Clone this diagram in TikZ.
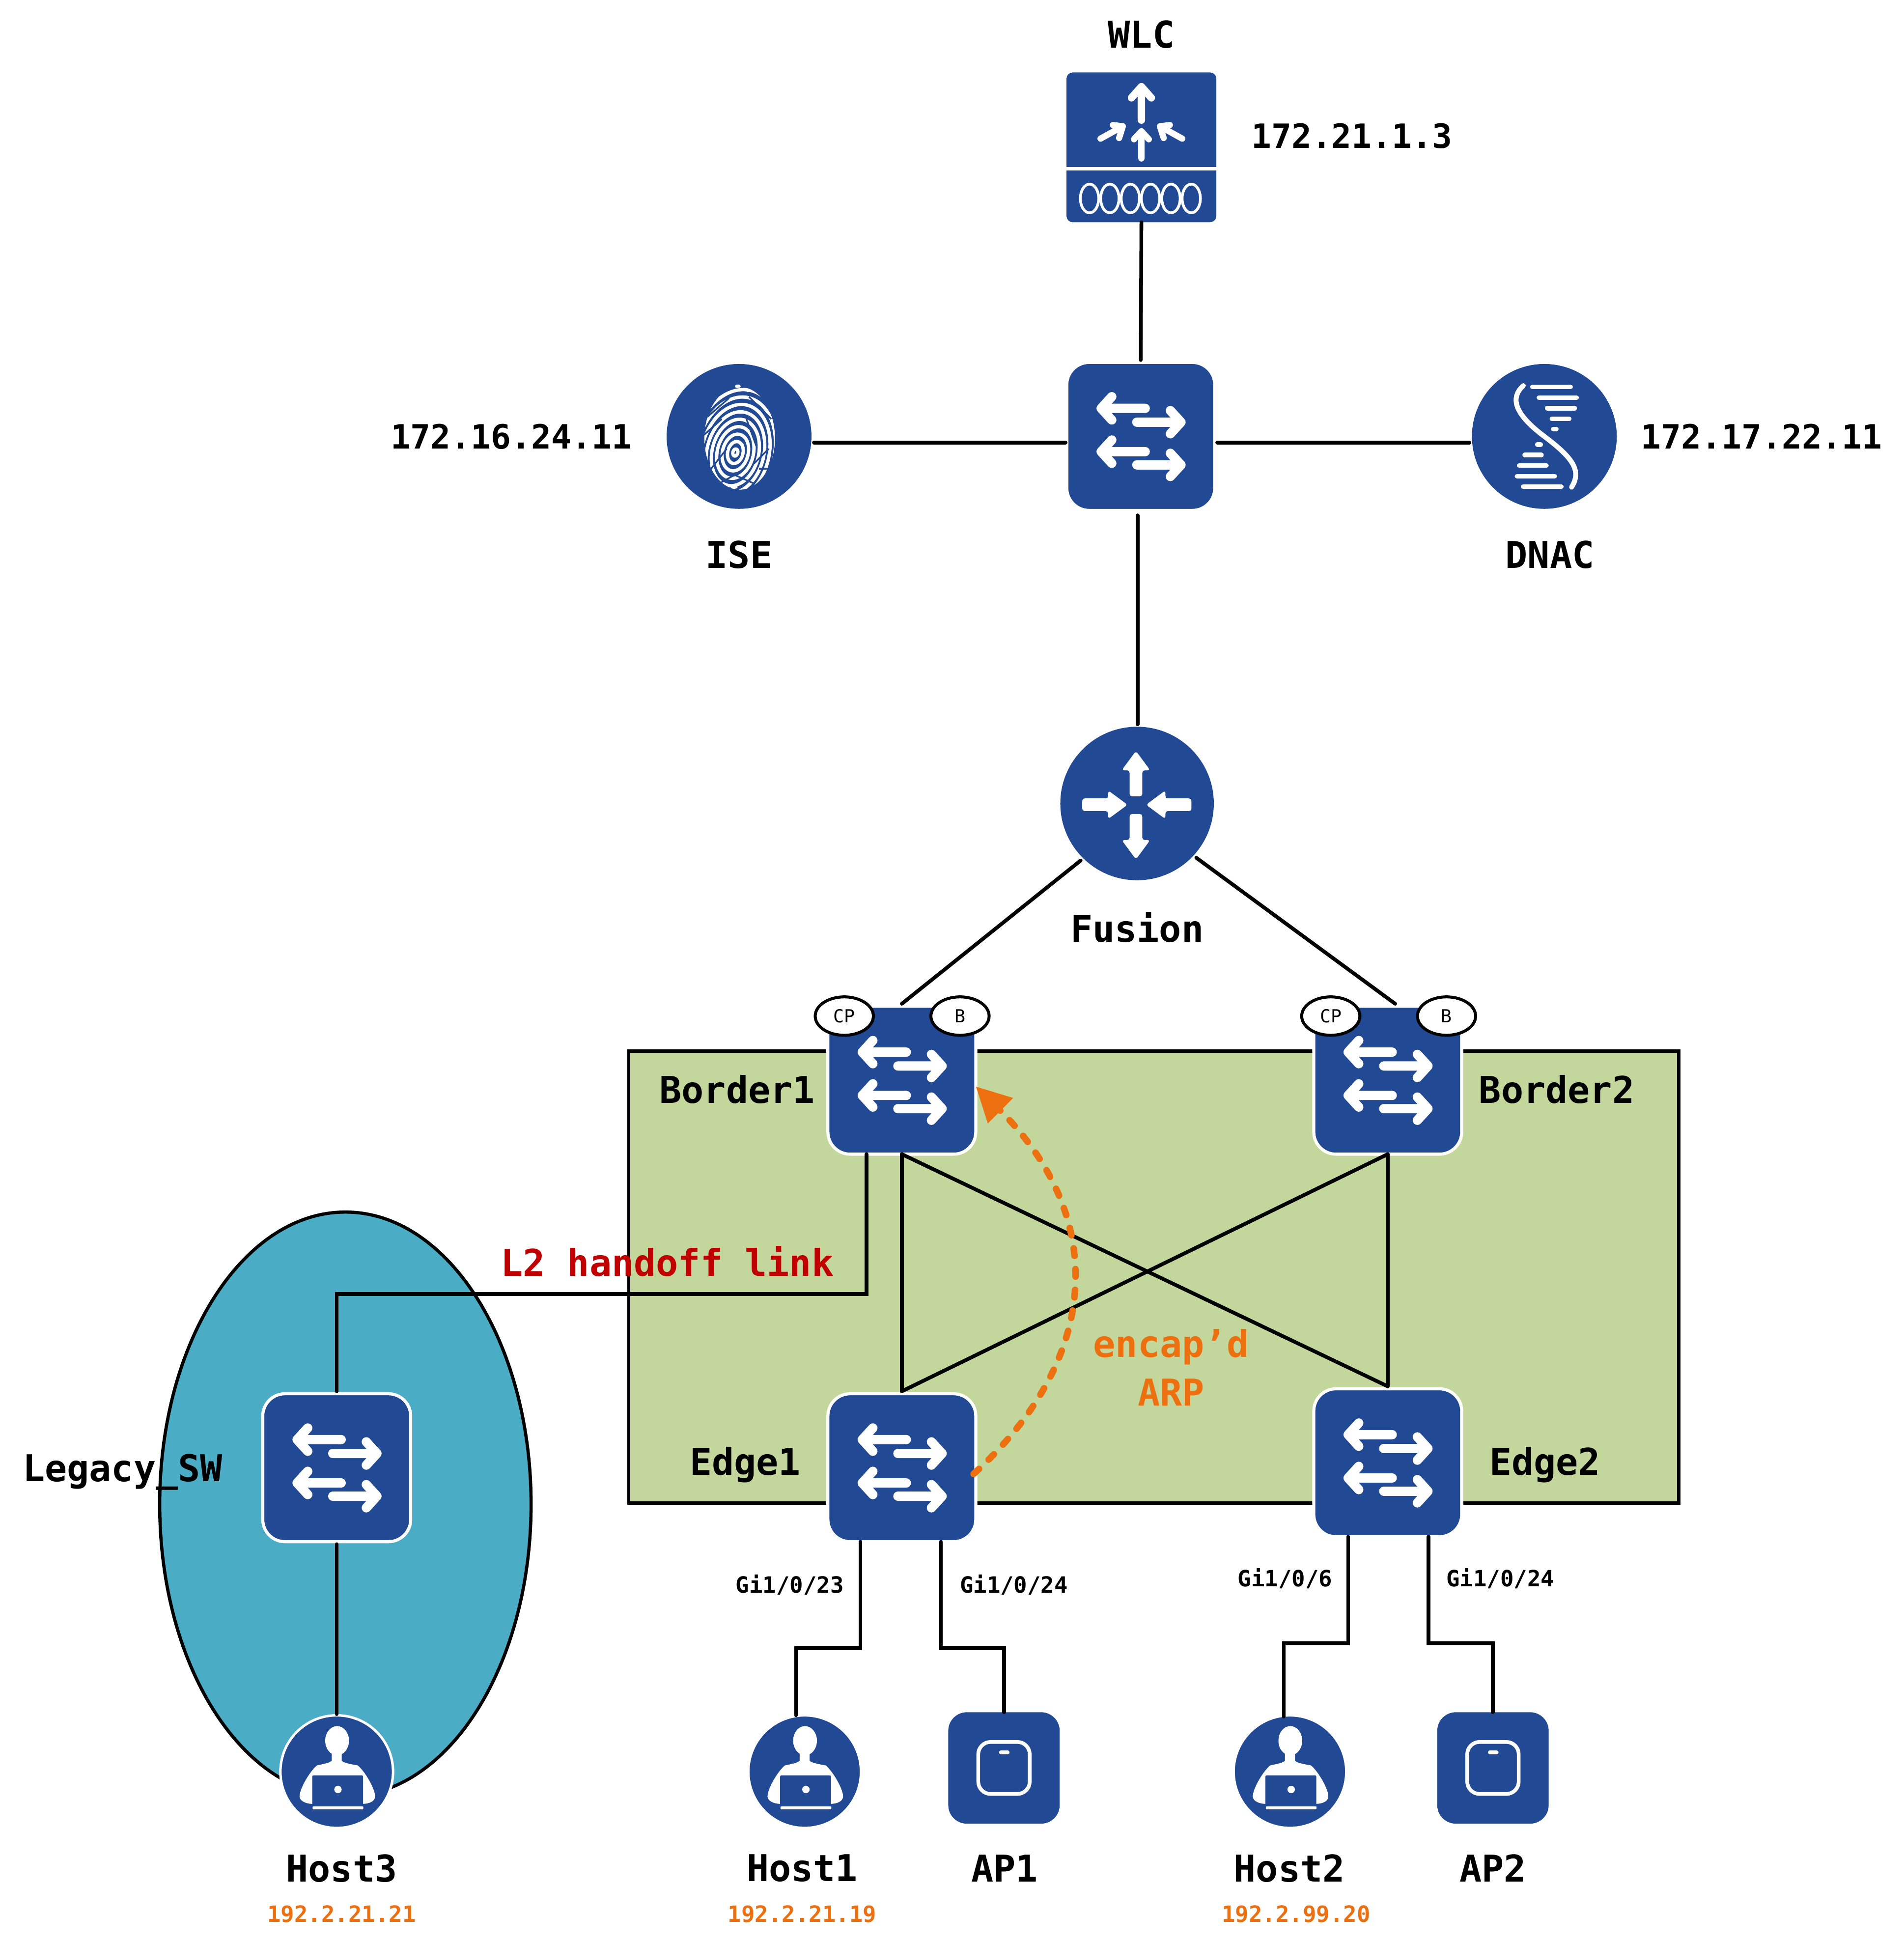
\documentclass[tikz,border=0pt]{standalone}
\usepackage{fontspec}
\setmonofont{DejaVu Sans Mono}
\usetikzlibrary{arrows.meta}
\usetikzlibrary{shapes.geometric}
\definecolor{ciscoblue}{HTML}{224994}
\definecolor{fabricgreen}{HTML}{C3D69B}
\definecolor{legacyteal}{HTML}{4BACC6}
\definecolor{arporange}{HTML}{EC7010}
\definecolor{handoffred}{HTML}{C00000}

\tikzset{
  link/.style = {line width=3pt, line cap=round, line join=miter},
  swbox/.style = {rectangle, rounded corners=18pt, fill=ciscoblue, draw=white, line width=2.5pt,
                  minimum size=119.5pt, inner sep=0pt, outer sep=0pt},
  apbox/.style = {rectangle, rounded corners=15pt, fill=ciscoblue, minimum size=90pt, inner sep=0pt, outer sep=0pt},
  bluedisc/.style = {circle, fill=ciscoblue, inner sep=0pt, outer sep=0pt},
  hostdisc/.style = {bluedisc, draw=white, line width=2pt, minimum size=91pt},
  tagoval/.style = {ellipse, draw=black, fill=white, line width=2.4pt, minimum width=47pt, minimum height=31pt,
                    inner sep=0pt, outer sep=0pt, font=\ttfamily\fontsize{14.5}{16}\selectfont},
  lblbig/.style = {inner sep=0pt, font=\ttfamily\bfseries\fontsize{29.8}{34}\selectfont},
  lblip/.style = {inner sep=0pt, font=\ttfamily\bfseries\fontsize{27}{32}\selectfont},
  lblport/.style = {inner sep=0pt, font=\ttfamily\bfseries\fontsize{18.1}{21}\selectfont},
  wline/.style = {draw=white, line cap=round, line join=round},
  swarrows/.pic = {
    \foreach \rowa/\rowb in {-22.7/-11.5, 12.3/23} {
      \draw[wline, line width=7.5pt] (3.6,\rowa) -- (-32,\rowa) (-23.4,\rowa-9.4) -- (-32,\rowa) -- (-23.4,\rowa+9.4);
      \draw[wline, line width=7.5pt] (-3.2,\rowb) -- (32.5,\rowb) (23.9,\rowb-9.4) -- (32.5,\rowb) -- (23.9,\rowb+9.4);
    }
  },
  routarrows/.pic = {
    \foreach \ox/\oy/\ang in {-0.9/-5.8/0, -0.9/8.5/180, -44.3/1/-90, 43.9/1/90}
      {\fill[white, rounded corners=2pt, shift={(\ox,\oy)}, rotate=\ang]
         (-5.1,0) -- (-5.1,-21) -- (-11.5,-21) -- (0,-36.6) -- (11.5,-21) -- (5.1,-21) -- (5.1,0) -- cycle;}
  },
  wlcicon/.pic = {
    \draw[wline, line width=6pt] (0,-22) -- (0,-49) (-8,-40) -- (0,-49) -- (8,-40);
    \draw[wline, line width=5pt] (0,9) -- (0,-13) (-6,-6.5) -- (0,-13) -- (6,-6.5);
    \draw[wline, line width=5pt] (-33,-7) -- (-15,-17) (-23,-18) -- (-15,-17) -- (-18,-7.5);
    \draw[wline, line width=5pt] (33,-7) -- (15,-17) (23,-18) -- (15,-17) -- (18,-7.5);
    \fill[white] (-61,15.9) rectangle (61,18.5);
    \foreach \cx in {-41.9,-25.5,-8.9,7.4,23.9,40.3}
      {\draw[white, line width=2.2pt] (\cx,41.3) ellipse [x radius=7.4,y radius=11.6];}
  },
  fingerprint/.pic = {
    \begin{scope}
      \clip (0.5,1.5) ellipse [x radius=28.5,y radius=41.5];
      \foreach \r in {2,6.2,10.4,14.6,18.8,23,27.2,31.4,35.6}
        {\draw[wline, line width=2.7pt, rotate around={-14:(-3,13)}] (-3,13) ellipse [x radius=\r,y radius=1.45*\r];}
      % ridge endings
      \foreach \ax/\ay/\bx/\by in {-30/-12/-8/-31, -32/2/-14/-14, 6/-14/14/8, 12/22/24/10, -24/28/-10/10, -6/30/12/38,
                                   8/-32/26/-14, 16/26/30/26, -16/38/2/28}
        {\draw[ciscoblue, line width=1.3pt] (\ax,\ay) -- (\bx,\by);}
    \end{scope}
    \fill[white] (-1,-40.5) ellipse [x radius=2.4,y radius=1.4] (7,-37) circle (1.3) (-4,41) ellipse [x radius=2.8,y radius=1.3];
  },
  dnahelix/.pic = {
    \draw[wline, line width=4pt] (-17,-41) .. controls (-28,-31) and (-24,-18) .. (0,0)
      .. controls (24,18) and (30,28) .. (22,41);
    \foreach \yy/\xa/\xb in {-39.9/-9.7/21.2, -31.3/-4.4/26.1, -22.8/2.3/24.6, -14.2/6.1/20.1, -6/7.2/9.7,
                             6.6/-5.7/-2.9, 15/-15.9/-2.3, 23.5/-20.4/1.7, 32.1/-22.1/8.4, 40.6/-17.2/13.8}
      {\draw[wline, line width=3.7pt] (\xa,\yy) -- (\xb,\yy);}
  },
  hostuser/.pic = {
    \fill[white] (0.3,-25) ellipse [x radius=9.6,y radius=11.8];
    \fill[white] (-4,-16) -- (-4,-9) .. controls (-5,-7) and (-12,-6) .. (-16,-5)
      .. controls (-22,0) and (-30,14) .. (-30,20) .. controls (-30,24) and (-24,26) .. (-20,26)
      -- (21,26) .. controls (26,26) and (31,24) .. (31,20) .. controls (31,14) and (23,0) .. (17,-5)
      .. controls (12,-6) and (5,-7) .. (4,-9) -- (4,-16) -- cycle;
    \fill[ciscoblue, rounded corners=1pt] (-19.8,3) rectangle (21.3,28);
    \fill[white] (1,14.4) circle (3);
    \fill[white, rounded corners=0.8pt] (-19.5,28) rectangle (21.5,30.4);
  },
  apicon/.pic = {
    \draw[white, line width=3pt, rounded corners=10pt] (-20.8,-21) rectangle (20.8,21);
    \draw[wline, line width=3pt] (-2.5,-12.6) -- (3,-12.6);
  }
}

\begin{document}
\begin{tikzpicture}[x=1pt,y=-1pt]
\useasboundingbox (0,0) rectangle (1537.7,1568.6);

% background areas
\node[ellipse, draw=black, fill=legacyteal, line width=2.6pt, minimum width=300pt, minimum height=472pt,
      inner sep=0pt] (legacyarea) at (279,1215) {};
\node[rectangle, draw=black, fill=fabricgreen, line width=2.6pt, minimum width=848pt, minimum height=365pt,
      inner sep=0pt] (fabric) at (932,1031.5) {};

% devices
\node[rectangle, rounded corners=5pt, fill=ciscoblue, minimum size=121pt, inner sep=0pt, outer sep=0pt] (wlc) at (922,119) {};
\node[swbox] (fsw) at (921.5,352.5) {};
\node[bluedisc, minimum size=117pt] (ise) at (597,352.5) {};
\node[bluedisc, minimum size=117pt] (dnac) at (1247.5,352.5) {};
\node[bluedisc, minimum size=124pt] (fusion) at (918.5,649) {};
\node[swbox] (border1) at (728.5,872.5) {};
\node[swbox] (border2) at (1121,872.5) {};
\node[swbox] (edge1) at (728.5,1185.5) {};
\node[swbox] (edge2) at (1121,1181.5) {};
\node[swbox] (legacy) at (272,1185.5) {};
\node[hostdisc] (host3) at (272,1431) {};
\node[hostdisc] (host1) at (650,1431) {};
\node[hostdisc] (host2) at (1042,1431) {};
\node[apbox] (ap1) at (811,1428) {};
\node[apbox] (ap2) at (1206,1428) {};

% connectors
\draw[link] (wlc.south) -- ([yshift=2pt]fsw.north);
\draw[link] ([yshift=-5pt,xshift=2pt]ise.east) -- ([yshift=-5pt,xshift=-1pt]fsw.west);
\draw[link] ([yshift=-5pt,xshift=2pt]fsw.east) -- ([yshift=-5pt,xshift=-2pt]dnac.west);
\draw[link] ([xshift=-2.5pt,yshift=-4pt]fsw.south) -- ([xshift=0.5pt,yshift=2pt]fusion.north);
\draw[link] ([xshift=-1.7pt,yshift=-2.2pt]fusion.225) -- ([yshift=2pt]border1.north);
\draw[link] ([xshift=4pt]fusion.-45) -- ([xshift=6pt,yshift=2pt]border2.north);

\draw[link] ([xshift=-28.5pt]border1.south) -- ++(0,113) -| ([yshift=2pt]legacy.north);
\draw[link] ([yshift=-2pt]legacy.south) -- ([yshift=1pt]host3.north);

\draw[link] (border1.south) -- ([yshift=2pt]edge1.north);
\draw[link] (border1.south) -- ([yshift=2pt]edge2.north);
\draw[link] (border2.south) -- ([yshift=2pt]edge1.north);
\draw[link] (border2.south) -- ([yshift=2pt]edge2.north);

\draw[link] ([xshift=-33.5pt]edge1.south) |- ++(-52,86) -- ([xshift=-7pt,yshift=0pt]host1.north);
\draw[link] ([xshift=31.5pt]edge1.south) |- ++(51,86) -- (ap1.north);
\draw[link] ([xshift=-32pt]edge2.south) |- ++(-52,86) -- ([xshift=-5pt,yshift=-1pt]host2.north);
\draw[link] ([xshift=33pt]edge2.south) |- ++(52,86) -- (ap2.north);

\draw[-{Triangle[length=28pt,width=27.5pt]}, arporange, line width=5.3pt, dash pattern=on 6pt off 10.8pt, line cap=round]
  ([yshift=-5pt,xshift=-1.8pt]edge1.east) .. controls (892,1095) and (893,981) .. ([yshift=-5pt]border1.east);

% icons
\pic at (wlc.center) {wlcicon};
\pic at (fsw.center) {swarrows};
\pic at (ise.center) {fingerprint};
\pic at (dnac.center) {dnahelix};
\pic at (fusion.center) {routarrows};
\foreach \sw in {border1, border2, edge1, edge2, legacy}
  {\pic at (\sw.center) {swarrows};}
\foreach \hst in {host1, host2, host3}
  {\pic at (\hst.center) {hostuser};}
\foreach \ap in {ap1, ap2}
  {\pic at (\ap.center) {apicon};}

% role tags
\node[tagoval] (cp1) at (682,820.7) {CP};
\node[tagoval] (b1) at (775.5,820.7) {B};
\node[tagoval] (cp2) at (1075,820.7) {CP};
\node[tagoval] (b2) at (1168.5,820.7) {B};

% labels
\node[lblbig] (lblwlc) at (922,28) {WLC};
\node[lblip] (ipwlc) at (1092,110) {172.21.1.3};
\node[lblip] (ipise) at (413,352.5) {172.16.24.11};
\node[lblip] (ipdnac) at (1423,352.5) {172.17.22.11};
\node[lblbig] (lblise) at (597,448) {ISE};
\node[lblbig] (lbldnac) at (1252,448) {DNAC};
\node[lblbig] (lblfusion) at (918.5,749) {Fusion};
\node[lblbig] (lblborder1) at (595.5,880) {Border1};
\node[lblbig] (lblborder2) at (1257.5,880) {Border2};
\node[lblbig] (lbledge1) at (602,1183) {Edge1};
\node[lblbig] (lbledge2) at (1248,1183) {Edge2};
\node[lblbig] (lbllegacy) at (99,1189) {Legacy\_SW};
\node[lblbig, text=handoffred] (lblhandoff) at (539,1019) {L2 handoff link};
\node[lblbig, text=arporange, align=center] (lblarp) at (946,1104.5) {encap’d\\[5pt]ARP};
\node[lblport] (port1) at (638,1280) {Gi1/0/23};
\node[lblport] (port2) at (819,1280) {Gi1/0/24};
\node[lblport] (port3) at (1038,1275) {Gi1/0/6};
\node[lblport] (port4) at (1212,1275) {Gi1/0/24};
\node[lblbig] (lblhost3) at (276,1509) {Host3};
\node[lblbig] (lblhost1) at (648,1509) {Host1};
\node[lblbig] (lblap1) at (811.5,1509) {AP1};
\node[lblbig] (lblhost2) at (1041.5,1509) {Host2};
\node[lblbig] (lblap2) at (1206,1509) {AP2};
\node[lblport, text=arporange] (iphost3) at (276,1546) {192.2.21.21};
\node[lblport, text=arporange] (iphost1) at (648,1546) {192.2.21.19};
\node[lblport, text=arporange] (iphost2) at (1047,1546) {192.2.99.20};

\end{tikzpicture}
\end{document}
